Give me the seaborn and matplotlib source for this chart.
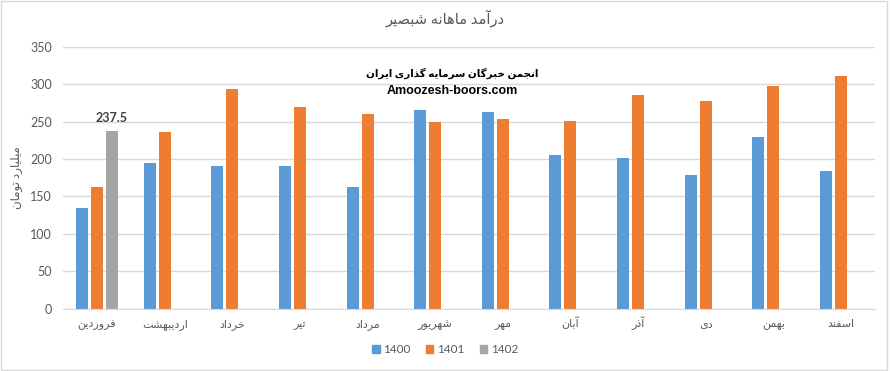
import pandas as pd
import seaborn as sns
import matplotlib.pyplot as plt
from matplotlib.patches import Rectangle

# monthly values
months = ['فروردین', 'اردیبهشت', 'خرداد', 'تیر', 'مرداد', 'شهریور',
          'مهر', 'آبان', 'آذر', 'دی', 'بهمن', 'اسفند']
years = ['1400', '1401', '1402']
v1400 = [134.5, 194.5, 190, 191, 163, 265.5, 263, 206, 202, 178, 230, 184.5]
v1401 = [162.5, 236, 294, 270, 260.5, 250, 253.5, 251, 286, 278, 298, 311]
v1402 = [237.5]
colors = ['#5B9BD5', '#ED7D31', '#A5A5A5']

title = 'درآمد ماهانه شبصیر'
ylabel = 'میلیارد تومان'
mark1 = 'انجمن خبرگان سرمایه گذاری ایران'
mark2 = 'Amoozesh-boors.com'

# matplotlib has no arabic shaping, so pick the presentation forms by hand
# letter: (isolated, final, initial, medial); two entries = joins right only
forms = {
    'ا': ('\uFE8D', '\uFE8E'), 'آ': ('\uFE81', '\uFE82'),
    'د': ('\uFEA9', '\uFEAA'), 'ذ': ('\uFEAB', '\uFEAC'),
    'ر': ('\uFEAD', '\uFEAE'), 'و': ('\uFEED', '\uFEEE'),
    'ب': ('\uFE8F', '\uFE90', '\uFE91', '\uFE92'),
    'ت': ('\uFE95', '\uFE96', '\uFE97', '\uFE98'),
    'ج': ('\uFE9D', '\uFE9E', '\uFE9F', '\uFEA0'),
    'خ': ('\uFEA5', '\uFEA6', '\uFEA7', '\uFEA8'),
    'س': ('\uFEB1', '\uFEB2', '\uFEB3', '\uFEB4'),
    'ش': ('\uFEB5', '\uFEB6', '\uFEB7', '\uFEB8'),
    'ص': ('\uFEB9', '\uFEBA', '\uFEBB', '\uFEBC'),
    'ف': ('\uFED1', '\uFED2', '\uFED3', '\uFED4'),
    'ل': ('\uFEDD', '\uFEDE', '\uFEDF', '\uFEE0'),
    'م': ('\uFEE1', '\uFEE2', '\uFEE3', '\uFEE4'),
    'ن': ('\uFEE5', '\uFEE6', '\uFEE7', '\uFEE8'),
    'ه': ('\uFEE9', '\uFEEA', '\uFEEB', '\uFEEC'),
    'ی': ('\uFEEF', '\uFEF0', '\uFEF3', '\uFEF4'),
    'گ': ('\uFB92', '\uFB93', '\uFB94', '\uFB95'),
}


def fa(s):
    out = []
    for i, c in enumerate(s):
        if c not in forms:
            out.append(c)
            continue
        prev = s[i - 1] if i > 0 else ' '
        nxt = s[i + 1] if i + 1 < len(s) else ' '
        jp = prev in forms and len(forms[prev]) == 4
        jn = len(forms[c]) == 4 and nxt in forms
        f = forms[c]
        if jp and jn:
            out.append(f[3])
        elif jp:
            out.append(f[1])
        elif jn:
            out.append(f[2])
        else:
            out.append(f[0])
    return ''.join(out[::-1])


rows = []
for m, a, b in zip(months, v1400, v1401):
    rows.append((m, '1400', a))
    rows.append((m, '1401', b))
for m, c in zip(months, v1402):
    rows.append((m, '1402', c))
df = pd.DataFrame(rows, columns=['month', 'year', 'value'])

sns.set_style('white')
plt.rcParams['font.family'] = ['Lato', 'DejaVu Sans']
grey = '#595959'

fig = plt.figure(figsize=(8.9, 3.71), dpi=100)
ax = fig.add_axes([0.071, 0.168, 0.912, 0.706])
sns.barplot(data=df, x='month', y='value', hue='year', order=months,
            hue_order=years, palette=colors, saturation=1, errorbar=None,
            width=0.665, gap=0.2, linewidth=0, ax=ax)

ax.set_ylim(0, 350)
ax.set_yticks(range(0, 351, 50))
ax.yaxis.grid(True, color='#d9d9d9', linewidth=1)
ax.set_axisbelow(True)
for s in ['top', 'right', 'left']:
    ax.spines[s].set_visible(False)
ax.spines['bottom'].set_color('#d9d9d9')
ax.tick_params(length=0, colors=grey, labelsize=9)
ax.tick_params(axis='y', pad=8)
ax.tick_params(axis='x', pad=13, labelsize=8)
ax.set_xticks(range(len(months)))
ax.set_xticklabels([fa(m) for m in months])
for t in ax.get_xticklabels():
    t.set_verticalalignment('baseline')
ax.set_xlabel('')
ax.set_ylabel(fa(ylabel), color=grey, fontsize=8.5, labelpad=5)

ax.bar_label(ax.containers[2], fmt='%.1f', fontweight='bold',
             color='#404040', fontsize=9, padding=5)

ax.get_legend().remove()
handles = [Rectangle((0, 0), 1, 1, color=c) for c in colors]
fig.legend(handles, years, loc='center', bbox_to_anchor=(0.5, 0.057),
           ncol=3, frameon=False, handlelength=0.65, handleheight=0.65,
           handletextpad=0.3, columnspacing=1.3,
           prop={'size': 8.5}, labelcolor=grey)

fig.text(0.5, 0.951, fa(title), ha='center', va='center', color=grey,
         fontsize=10.5)
fig.text(0.508, 0.803, fa(mark1), ha='center', va='center', color='black',
         fontsize=7.5, fontweight='bold')
fig.text(0.508, 0.755, mark2, ha='center', va='center', color='black',
         fontsize=9, fontweight='bold', family='Liberation Sans')

fig.patches.append(Rectangle((0.001, 0.003), 0.996, 0.994,
                             transform=fig.transFigure, fill=False,
                             edgecolor='#d9d9d9', linewidth=1))

fig.savefig('out.png', dpi=100)
